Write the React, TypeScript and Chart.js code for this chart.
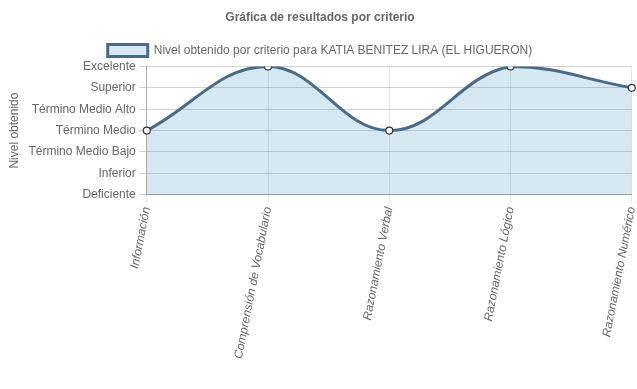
import React, { useEffect, useRef } from "react";
import { Chart, registerables } from "chart.js";

Chart.register(...registerables);

const categories = [
  "Información",
  "Comprensión de Vocabulario",
  "Razonamiento Verbal",
  "Razonamiento Lógico",
  "Razonamiento Numérico",
];
const levelLabels = [
  "Deficiente",
  "Inferior",
  "Término Medio Bajo",
  "Término Medio",
  "Término Medio Alto",
  "Superior",
  "Excelente",
];
const values = [3, 6, 3, 6, 5];
const seriesName = "Nivel obtenido por criterio para KATIA BENITEZ LIRA (EL HIGUERON)";

export default function App() {
  const ref = useRef<HTMLCanvasElement | null>(null);
  useEffect(() => {
    document.body.style.margin = "0";
    if (!ref.current) return;
    Chart.defaults.font.family = "'Liberation Sans', Arial, sans-serif";
    Chart.defaults.font.size = 12;
    Chart.defaults.color = "#666";
    const chart = new Chart(ref.current, {
      type: "line",
      data: {
        labels: categories,
        datasets: [
          {
            label: seriesName,
            data: values,
            fill: "origin",
            backgroundColor: "rgba(60,141,188,0.2)",
            borderColor: "#4a6a88",
            borderWidth: 3,
            tension: 0.4,
            pointRadius: 3.5,
            pointBackgroundColor: "#fff",
            pointBorderColor: "#333",
            pointBorderWidth: 1.2,
          },
        ],
      },
      options: {
        animation: false,
        responsive: false,
        maintainAspectRatio: false,
        layout: { padding: { right: 0, bottom: 26, left: 3 } },
        plugins: {
          title: {
            display: true,
            text: "Gráfica de resultados por criterio",
            font: { size: 12, weight: "bold" },
            color: "#666",
          },
          legend: {
            display: true,
            labels: { boxWidth: 40, font: { size: 12 }, color: "#666" },
          },
          tooltip: { enabled: false },
        },
        scales: {
          x: {
            grid: { color: "rgba(0,0,0,0.1)", tickLength: 8 },
            border: { color: "rgba(0,0,0,0.25)" },
            afterFit: (scale: any) => {
              scale.paddingRight = 3;
            },
            ticks: {
              minRotation: 79,
              maxRotation: 79,
              font: { style: "italic", size: 12 },
              color: "#666",
            },
          },
          y: {
            min: 0,
            max: 6,
            grid: { color: "rgba(0,0,0,0.18)", tickLength: 8 },
            border: { color: "rgba(0,0,0,0.25)" },
            ticks: {
              stepSize: 1,
              color: "#666",
              callback: (v: any) => levelLabels[Number(v)] ?? "",
            },
            title: {
              display: true,
              text: "Nivel obtenido",
              color: "#666",
              font: { size: 12 },
            },
          },
        },
      },
    });
    return () => chart.destroy();
  }, []);
  return (
    <div style={{ position: "absolute", left: 0, top: 0, width: 637, height: 389 }}>
      <canvas ref={ref} width={637} height={389} style={{ width: 637, height: 389 }} />
    </div>
  );
}
